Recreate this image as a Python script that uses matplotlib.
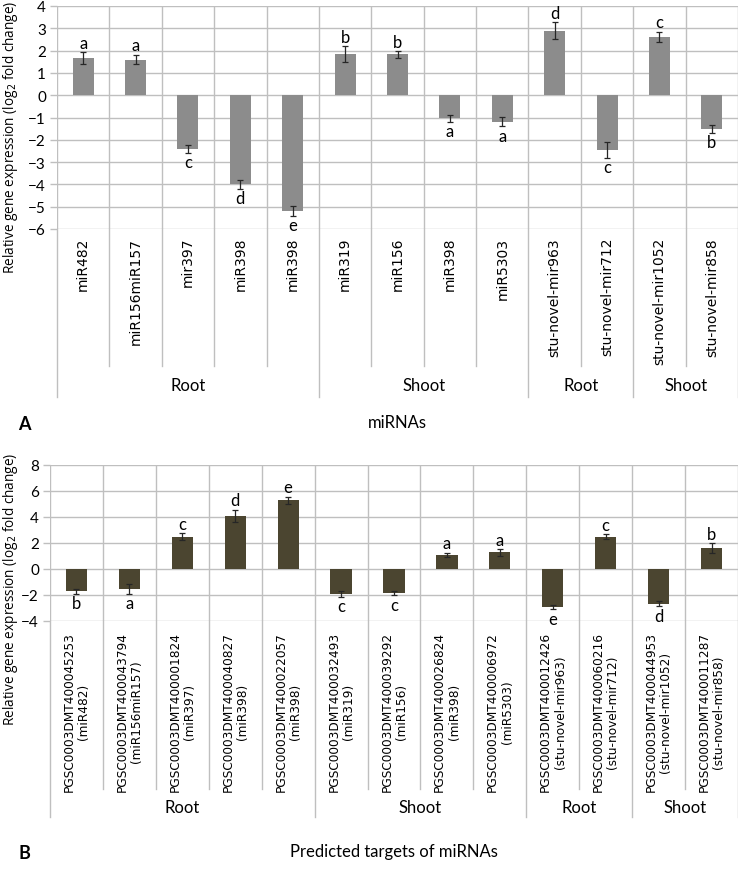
import matplotlib
matplotlib.use('Agg')
import matplotlib.pyplot as plt
import matplotlib.transforms as mtransforms
import numpy as np

# ---- data: panel A (miRNAs) ----
mirnas = ['miR482', 'miR156miR157', 'mir397', 'miR398', 'miR398', 'miR319', 'miR156',
          'miR398', 'miR5303', 'stu-novel-mir963', 'stu-novel-mir712',
          'stu-novel-mir1052', 'stu-novel-mir858']
mirna_vals = [1.67, 1.6, -2.4, -4.0, -5.2, 1.86, 1.83, -1.03, -1.18, 2.9, -2.45, 2.62, -1.52]
mirna_errs = [0.25, 0.22, 0.17, 0.2, 0.22, 0.35, 0.15, 0.15, 0.22, 0.38, 0.36, 0.22, 0.17]
mirna_letters = ['a', 'a', 'c', 'd', 'e', 'b', 'b', 'a', 'a', 'd', 'c', 'c', 'b']

# ---- data: panel B (predicted targets) ----
targets = ['PGSC0003DMT400045253\n(miR482)', 'PGSC0003DMT400043794\n(miR156miR157)',
           'PGSC0003DMT400001824\n(miR397)', 'PGSC0003DMT400040827\n(miR398)',
           'PGSC0003DMT400022057\n(miR398)', 'PGSC0003DMT400032493\n(miR319)',
           'PGSC0003DMT400039292\n(miR156)', 'PGSC0003DMT400026824\n(miR398)',
           'PGSC0003DMT400006972\n(miR5303)', 'PGSC0003DMT400012426\n(stu-novel-mir963)',
           'PGSC0003DMT400060216\n(stu-novel-mir712)', 'PGSC0003DMT400044953\n(stu-novel-mir1052)',
           'PGSC0003DMT400011287\n(stu-novel-mir858)']
target_vals = [-1.7, -1.55, 2.48, 4.07, 5.27, -1.92, -1.87, 1.07, 1.28, -2.94, 2.48, -2.68, 1.61]
target_errs = [0.2, 0.38, 0.28, 0.49, 0.29, 0.2, 0.14, 0.18, 0.26, 0.17, 0.2, 0.19, 0.37]
target_letters = ['b', 'a', 'c', 'd', 'e', 'c', 'c', 'a', 'a', 'e', 'c', 'd', 'b']

group_names = ['Root', 'Shoot', 'Root', 'Shoot']
group_sizes = [5, 4, 2, 2]

W, H = 738, 870
FONT = 'Open Sans'
CFONT = 'DejaVu Sans'
LFONT = 'Lato'
GRID = '#bfbfbf'

fig = plt.figure(figsize=(W / 100, H / 100), dpi=100)


def fy(py):
    return 1 - py / H


def panel(ax, cats, vals, errs, letters, color, ylim, step, lab_top, inner_bot,
          group_bot, group_y, xlabel, xlabel_y, tag, cat_fs, ylab_y):
    x = np.arange(len(cats))
    ax.bar(x, vals, width=0.4, color=color, zorder=3)
    ax.errorbar(x, vals, yerr=errs, fmt='none', ecolor='#262626', elinewidth=0.9,
                capsize=2.5, capthick=0.9, zorder=4)
    for xi, v, e, l in zip(x, vals, errs, letters):
        if v >= 0:
            ax.annotate(l, (xi, v + e), xytext=(0, 1), textcoords='offset points',
                        ha='center', va='bottom', fontsize=12, family=LFONT)
        else:
            ax.annotate(l, (xi, v - e), xytext=(0, -1), textcoords='offset points',
                        ha='center', va='top', fontsize=12, family=LFONT)
    ax.set_xlim(-0.5, len(cats) - 0.5)
    ax.set_ylim(*ylim)
    ax.set_yticks(np.arange(ylim[0], ylim[1] + 1, step))
    ax.tick_params(axis='y', length=5, width=1, color=GRID, direction='out',
                   labelsize=11, pad=3)
    for t in ax.get_yticklabels():
        t.set_family(LFONT)
    ax.set_xticks([])
    for s in ax.spines.values():
        s.set_visible(False)
    for yv in np.arange(ylim[0], ylim[1] + 1, step):
        ax.axhline(yv, color=GRID, lw=1, zorder=1)
    for xv in np.arange(-0.5, len(cats), 1):
        ax.axvline(xv, color=GRID, lw=1, zorder=1)

    trans = mtransforms.blended_transform_factory(ax.transData, fig.transFigure)
    bottom_py = (1 - ax.get_position().y0) * H
    for xi, c in zip(x, cats):
        ax.text(xi, fy(lab_top), c, transform=trans, rotation=90, ha='center', va='top',
                multialignment='center', fontsize=cat_fs, family=CFONT, linespacing=1.15)
    edges = np.cumsum([0] + group_sizes) - 0.5
    for xv in np.arange(-0.5, len(cats), 1):
        yb = group_bot if np.any(np.isclose(edges, xv)) else inner_bot
        ax.plot([xv, xv], [fy(bottom_py), fy(yb)], transform=trans, color=GRID, lw=1,
                clip_on=False)
    for name, a, b in zip(group_names, edges[:-1], edges[1:]):
        ax.text((a + b) / 2, fy(group_y), name, transform=trans, ha='center', va='center',
                fontsize=12, family=LFONT)
    ax.text((-0.5 + len(cats) - 0.5) / 2, fy(xlabel_y), xlabel, transform=trans,
            ha='center', va='center', fontsize=12, family=LFONT)
    fig.text(18 / W, fy(xlabel_y + 2), tag, ha='left', va='center', fontsize=13,
             fontweight='bold', family=LFONT)
    fig.text(11 / W, fy(ylab_y), 'Relative gene expression (log$_2$ fold change)',
             rotation=90, ha='center', va='center', fontsize=9.8, family=FONT)


ax1 = fig.add_axes([57 / W, fy(230), (W - 57) / W, 223 / H])
panel(ax1, mirnas, mirna_vals, mirna_errs, mirna_letters, '#8c8c8c', (-6, 4), 1,
      lab_top=238, inner_bot=367, group_bot=398, group_y=386, xlabel='miRNAs',
      xlabel_y=423, tag='A', cat_fs=10, ylab_y=137)

ax2 = fig.add_axes([50 / W, fy(622), (W - 50) / W, 156 / H])
panel(ax2, targets, target_vals, target_errs, target_letters, '#4b4530', (-4, 8), 2,
      lab_top=632, inner_bot=790, group_bot=818, group_y=808,
      xlabel='Predicted targets of miRNAs', xlabel_y=852, tag='B', cat_fs=8.7,
      ylab_y=589)

fig.savefig('out.png', dpi=100)
